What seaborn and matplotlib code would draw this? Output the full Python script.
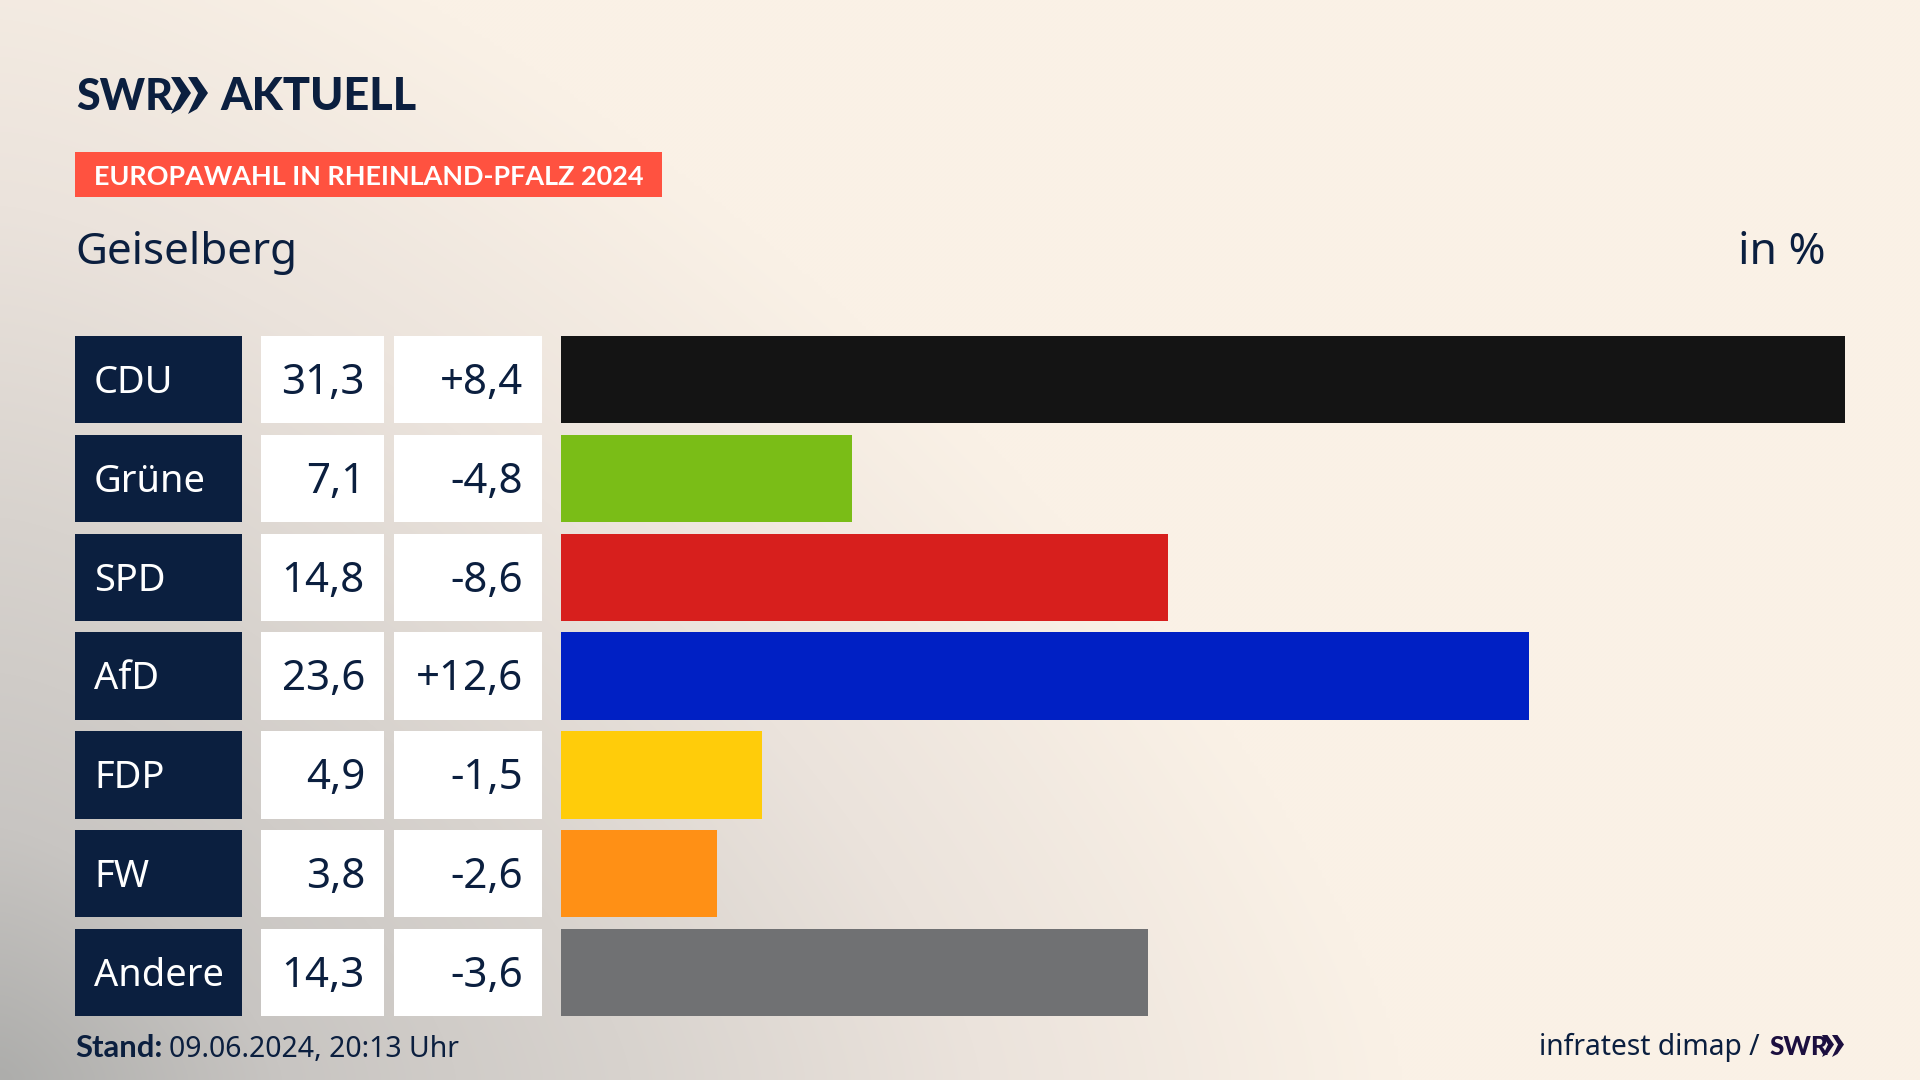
import logging
import numpy as np
import pandas as pd
import matplotlib
matplotlib.use("Agg")
import matplotlib.pyplot as plt
from matplotlib.colors import to_rgb
from matplotlib.patches import Rectangle, Polygon
import seaborn as sns

logging.getLogger("matplotlib.font_manager").setLevel(logging.ERROR)

parties = ["CDU", "Grüne", "SPD", "AfD", "FDP", "FW", "Andere"]
shares = [31.3, 7.1, 14.8, 23.6, 4.9, 3.8, 14.3]
changes = [8.4, -4.8, -8.6, 12.6, -1.5, -2.6, -3.6]
colors = ["#141414", "#7ABD17", "#D71F1D", "#0020C4", "#FFCC0A", "#FF9015", "#707173"]
banner_text = "EUROPAWAHL IN RHEINLAND-PFALZ 2024"
place = "Geiselberg"
unit = "in %"
stand_label = "Stand:"
stand_value = "09.06.2024, 20:13 Uhr"
source = "infratest dimap /"

W, H = 1920, 1080
NAVY = "#0B1F3F"
FONT = ["Noto Sans", "DejaVu Sans"]
BOLD = ["Lato", "DejaVu Sans"]
def px(p):
    return p * 0.72

sns.set_theme(style="white")
plt.rcParams["font.family"] = FONT

fig = plt.figure(figsize=(W / 100, H / 100), dpi=100)

bg = fig.add_axes([0, 0, 1, 1], zorder=0)
bg.set_xlim(0, W)
bg.set_ylim(H, 0)
bg.axis("off")

yy, xx = np.mgrid[0:H:270j, 0:W:480j]
p_ = 1.4
r = ((xx / 1400) ** p_ + ((H - yy) / 1250) ** p_) ** (1 / p_)
stops_r = [0.0, 0.2, 0.45, 0.7, 1.0]
stops_c = np.array([to_rgb(c) for c in ["#ADADAB", "#C8C5C2", "#D8D3CE", "#EBE3DC", "#FAF1E6"]])
img = np.stack([np.interp(r, stops_r, stops_c[:, k]) for k in range(3)], axis=-1)
bg.imshow(img, extent=(0, W, H, 0), aspect="auto", zorder=0, interpolation="bilinear")

ROW_TOP, ROW_H, PITCH = 336.0, 87.4, 98.8
BAR_L, BAR_R = 561, 1845

for i, (p, s, c) in enumerate(zip(parties, shares, changes)):
    top = ROW_TOP + i * PITCH
    base = top + 58
    bg.add_patch(Rectangle((75, top), 167, ROW_H, fc=NAVY, ec="none", zorder=2))
    bg.add_patch(Rectangle((261, top), 123, ROW_H, fc="white", ec="none", zorder=2))
    bg.add_patch(Rectangle((394, top), 148, ROW_H, fc="white", ec="none", zorder=2))
    bg.text(94, base - 1, p, color="white", fontsize=px(38), ha="left", va="baseline", zorder=3)
    bg.text(365, base, f"{s:.1f}".replace(".", ","), color=NAVY, fontsize=px(42),
            ha="right", va="baseline", zorder=3)
    bg.text(523, base, f"{c:+.1f}".replace(".", ","), color=NAVY, fontsize=px(42),
            ha="right", va="baseline", zorder=3)

n = len(parties)
y0 = ROW_TOP - (PITCH - ROW_H) / 2
y1 = y0 + n * PITCH
ax = fig.add_axes([BAR_L / W, 1 - y1 / H, (BAR_R - BAR_L) / W, (y1 - y0) / H], zorder=1)
ax.patch.set_alpha(0)
df = pd.DataFrame({"party": parties, "share": shares})
sns.barplot(data=df, x="share", y="party", hue="party", palette=colors, saturation=1,
            width=ROW_H / PITCH, legend=False, linewidth=0, ax=ax)
ax.set_xlim(0, max(shares))
ax.set_ylim(n - 0.5, -0.5)
ax.axis("off")

bg.text(76, 110, "SWR", color=NAVY, fontsize=px(43), fontweight="black", family=BOLD,
        ha="left", va="baseline", zorder=3)
def chevrons(x, top, bottom, w, color):
    mid = (top + bottom) / 2
    d = (bottom - top) * .12
    bg.add_patch(Polygon([(x, top + d), (x + w * 0.45, top + d), (x + w, mid),
                          (x + w * 0.45, bottom - d), (x, bottom), (x + w * .5, mid)],
                         closed=True, fc=color, ec="none", zorder=3))
chevrons(171, 72, 114, 20, NAVY)
chevrons(188, 72, 114, 20, NAVY)
bg.text(220, 110, "AKTUELL", color=NAVY, fontsize=px(45), fontweight="black", family=BOLD,
        ha="left", va="baseline", zorder=3)

bg.add_patch(Rectangle((75, 152), 587, 45, fc="#FF5240", ec="none", zorder=2))
bg.text(94, 185, banner_text, color="white", fontsize=px(27), fontweight="bold", family=BOLD,
        ha="left", va="baseline", zorder=3)
bg.text(75, 264, place, color=NAVY, fontsize=px(44), ha="left", va="baseline", zorder=3)
bg.text(1826, 264, unit, color=NAVY, fontsize=px(44.5), ha="right", va="baseline", zorder=3)

bg.text(75, 1057, stand_label, color=NAVY, fontsize=px(31), fontweight="bold", family=BOLD,
        ha="left", va="baseline", zorder=3)
bg.text(169, 1057, stand_value, color=NAVY, fontsize=px(28.4), ha="left", va="baseline", zorder=3)
bg.text(1760, 1055, source, color=NAVY, fontsize=px(28.2), ha="right", va="baseline", zorder=3)
bg.text(1769, 1055, "SWR", color="#1C0F3F", fontsize=px(26), fontweight="black", family=BOLD,
        ha="left", va="baseline", zorder=3)
chevrons(1822, 1032, 1057, 12, "#1C0F3F")
chevrons(1832, 1032, 1057, 12, "#1C0F3F")

fig.savefig("out.png", dpi=100)
